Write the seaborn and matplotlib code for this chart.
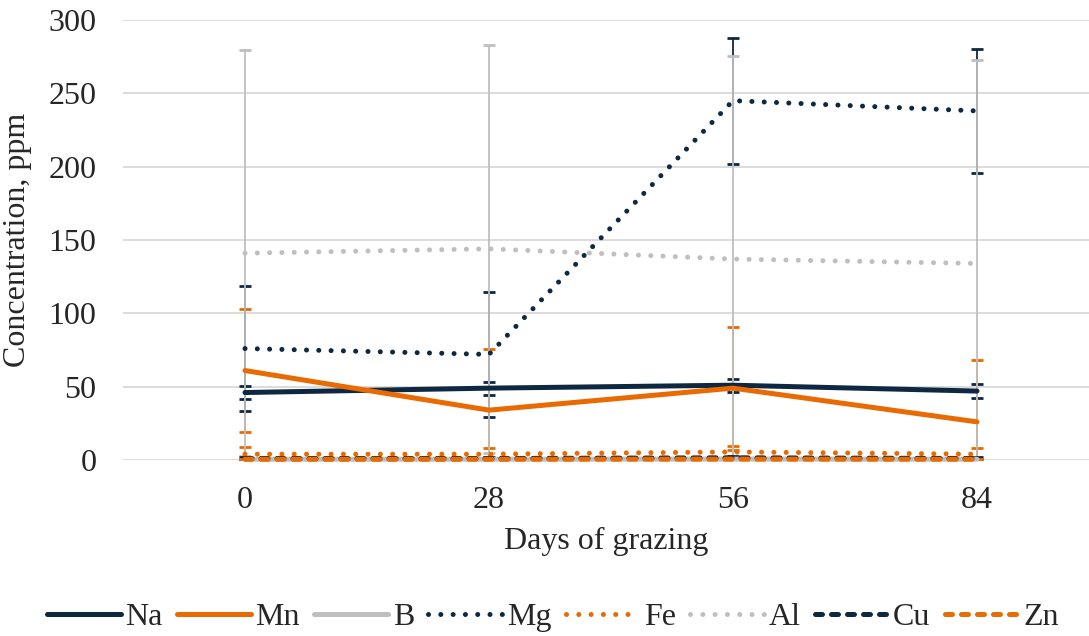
import matplotlib
matplotlib.use("Agg")
import matplotlib.pyplot as plt
import seaborn as sns
import pandas as pd

# dias de pastoreo (eje categorico)
days = ["0", "28", "56", "84"]

na = [46, 49, 51, 47]
na_err = [4.5, 4.5, 4.5, 4.5]
mn = [61, 34, 49, 26]
mn_err = [42, 42, 42, 42]
b = [0.5, 0.5, 0.6, 0.5]
b_err = [1, 1, 1, 1]
mg = [76, 72, 245, 238]
mg_err = [42.5, 42.5, 43, 42.5]
fe = [4, 4, 5.5, 4]
fe_err = [5, 4.5, 4, 4.5]
al = [141, 144, 137, 134]
al_err = [138.5, 139, 138.5, 138.5]
cu = [1, 1, 1.5, 1]
cu_err = [1, 1, 1, 1]
zn = [0.5, 0.5, 0.6, 0.5]
zn_err = [0.5, 0.5, 0.5, 0.5]

navy = "#0E2841"
orange = "#E96A00"
grey = "#BFBFBF"

dot = (0, (0.01, 2.45))
dash = (0, (1.4, 1.8))

series = [
    ("Na", na, na_err, navy, "-"),
    ("Mn", mn, mn_err, orange, "-"),
    ("B", b, b_err, grey, "-"),
    ("Mg", mg, mg_err, navy, dot),
    ("Fe", fe, fe_err, orange, dot),
    ("Al", al, al_err, grey, dot),
    ("Cu", cu, cu_err, navy, dash),
    ("Zn", zn, zn_err, orange, dash),
]

sns.set_style("white")
plt.rcParams['font.family'] = ['Liberation Serif', 'DejaVu Serif']
plt.rcParams['font.size'] = 23

fig = plt.figure(figsize=(10.89, 6.36), dpi=100)
ax = fig.add_axes([123/1089, 1-460/636, 966/1089, 440/636])

pos = list(range(len(days)))
for name, vals, err, col, ls in series:
    df = pd.DataFrame({"pos": pos, "val": vals})
    ax.errorbar(pos, vals, yerr=err, fmt="none", ecolor=col, elinewidth=1.3,
                capsize=4, capthick=2, zorder=2)
    sns.lineplot(data=df, x="pos", y="val", ax=ax, color=col, linewidth=3.6,
                 linestyle=ls, label=name, zorder=3)
    ln = ax.lines[-1]
    ln.set_dash_capstyle("round")
    ln.set_solid_capstyle("round")
    ln.set_clip_on(False)  # como excel, las lineas en 0 no se recortan

ax.set_ylim(0, 300)
ax.set_xlim(-0.5, 3 + 112/244)
ax.set_yticks(range(0, 301, 50))
ax.set_xticks(pos)
ax.set_xticklabels(days)
ax.tick_params(axis="both", length=0, labelsize=23)
ax.tick_params(axis="y", pad=19)
ax.tick_params(axis="x", pad=19)
ax.grid(axis="y", color="#D9D9D9", linewidth=1.3)
ax.grid(axis="x", visible=False)
for s in ax.spines.values():
    s.set_visible(False)

ax.set_xlabel("Days of grazing", fontsize=23, labelpad=8)
ax.set_ylabel("Concentration, ppm", fontsize=23, labelpad=12)

ax.get_legend().remove()
h, l = ax.get_legend_handles_labels()
fig.legend(h, l, loc="center", bbox_to_anchor=(553/1089, 1-617/636), ncol=8,
           frameon=False, fontsize=23, handlelength=2.3, handletextpad=0.15,
           columnspacing=0.45, borderaxespad=0)

fig.savefig("out.png", dpi=100)
